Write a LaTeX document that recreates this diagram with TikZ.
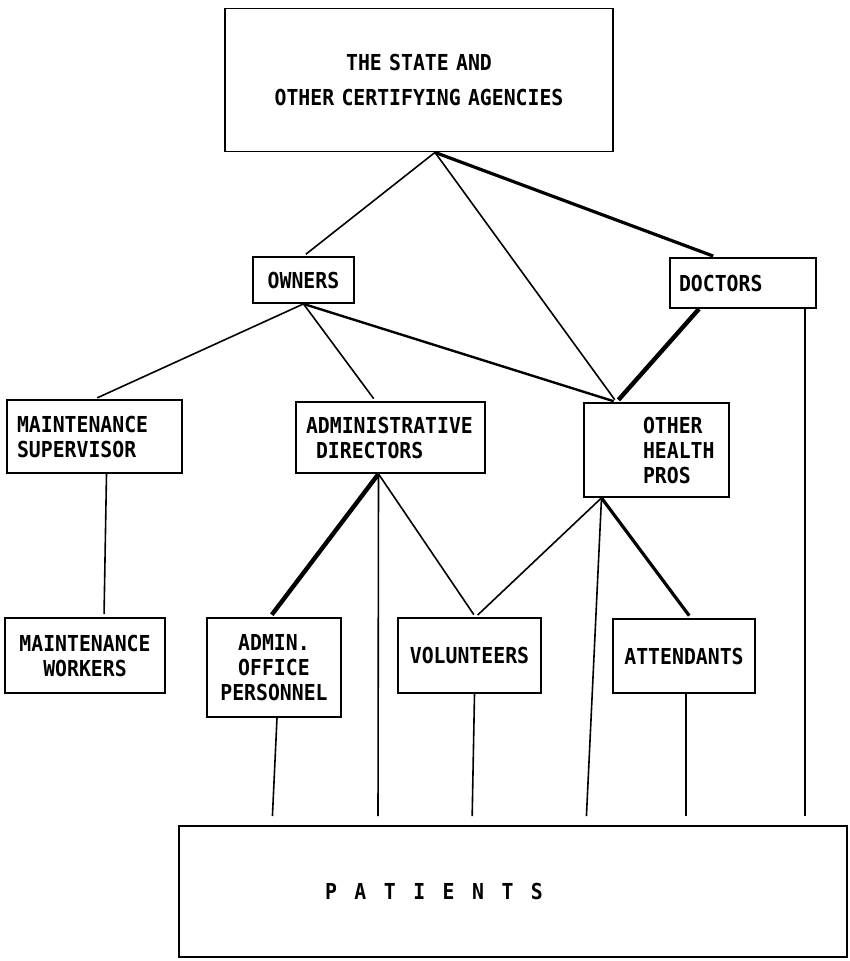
\documentclass[tikz,border=0pt]{standalone}
\usepackage{fontspec}
\setmainfont{DejaVu Sans Mono}[FakeStretch=0.9]

\begin{document}
\begin{tikzpicture}[x=1pt,y=-1pt,line width=1.6pt,
  every edge/.append style={shorten >=3pt},
  mid/.style={line width=2.4pt},heavy/.style={line width=3.2pt},
  heavier/.style={line width=4.4pt},topat/.style={shorten >=9pt}]
\tikzstyle{box}=[draw,line width=1.8pt,inner sep=0pt,font=\fontsize{22}{25}\selectfont\bfseries]
\useasboundingbox (0,0) rectangle (849,961);
\node[box,minimum width=388pt,minimum height=143pt,text width=388pt,align=center,
  font=\fontsize{22}{35}\selectfont\bfseries] (cert) at (419,80) {THE STATE AND\\OTHER CERTIFYING AGENCIES};
\node[box,minimum width=101pt,minimum height=46pt] (own) at (303.5,280) {OWNERS};
\node[box,minimum height=50pt,text width=128pt,inner xsep=9pt,align=left] (doc) at (743,283) {DOCTORS};
\node[box,minimum height=73pt,text width=155pt,inner xsep=10pt,align=left] (ms) at (94.5,436.5) {MAINTENANCE\\SUPERVISOR};
\node[box,minimum width=189pt,minimum height=71pt,text width=169pt,align=left] (ad) at (390.5,437.5) {ADMINISTRATIVE\\\hspace*{10pt}DIRECTORS};
\node[box,minimum height=94pt,text width=125pt,inner xsep=10pt,align=left] (ohp) at (656.5,450)
  {\hspace*{49pt}OTHER\\\hspace*{49pt}HEALTH\\\hspace*{49pt}PROS};
\node[box,minimum height=75pt,text width=160pt,align=center] (mw) at (85,655.5) {MAINTENANCE\\WORKERS};
\node[box,minimum height=99pt,text width=134pt,align=center] (aop) at (274,667.5) {ADMIN.\\OFFICE\\PERSONNEL};
\node[box,minimum height=75pt,text width=143pt,align=center] (vol) at (469.5,655.5) {VOLUNTEERS};
\node[box,minimum height=74pt,text width=142pt,align=center] (att) at (684,656) {ATTENDANTS};
\node[box,minimum height=131pt,text width=376pt,inner xsep=146pt,align=left] (pat) at (513,891.5)
  {P\hspace{17.5pt}A\hspace{17.5pt}T\hspace{17.5pt}I\hspace{17.5pt}E\hspace{17.5pt}N\hspace{17.5pt}T\hspace{17.5pt}S};
% junctions
\coordinate (apex) at ([xshift=16pt]cert.south);
\coordinate (ohpin) at ([xshift=-40pt]ohp.north);
\coordinate (ohpout) at ([xshift=-55pt]ohp.south);
\coordinate (adout) at ([xshift=-12pt]ad.south);
\coordinate (volin) at ([xshift=6pt]vol.north);
\path
(apex) edge (own.north)
(apex) edge (ohpin)
(apex) edge[heavy] ([xshift=-27pt]doc.north)
(own.south) edge (ms.north)
(own.south) edge ([xshift=-15pt]ad.north)
(own.south) edge[mid] (ohpin)
([xshift=-44pt]doc.south) edge[heavier] (ohpin)
([xshift=12pt]ms.south) edge ([xshift=19pt]mw.north)
(adout) edge[heavier] ([xshift=-4pt]aop.north)
(adout) edge (volin)
(adout) edge[topat] ([xshift=-135pt]pat.north)
(ohpout) edge (volin)
(ohpout) edge[topat] ([xshift=73pt]pat.north)
(ohpout) edge[heavy] ([xshift=7pt]att.north)
([xshift=3pt]aop.south) edge[topat] ([xshift=-241pt]pat.north)
([xshift=5pt]vol.south) edge[topat] ([xshift=-41pt]pat.north)
([xshift=2pt]att.south) edge[topat] ([xshift=173pt]pat.north)
([xshift=62pt]doc.south) edge[topat] ([xshift=292pt]pat.north);
\end{tikzpicture}
\end{document}
